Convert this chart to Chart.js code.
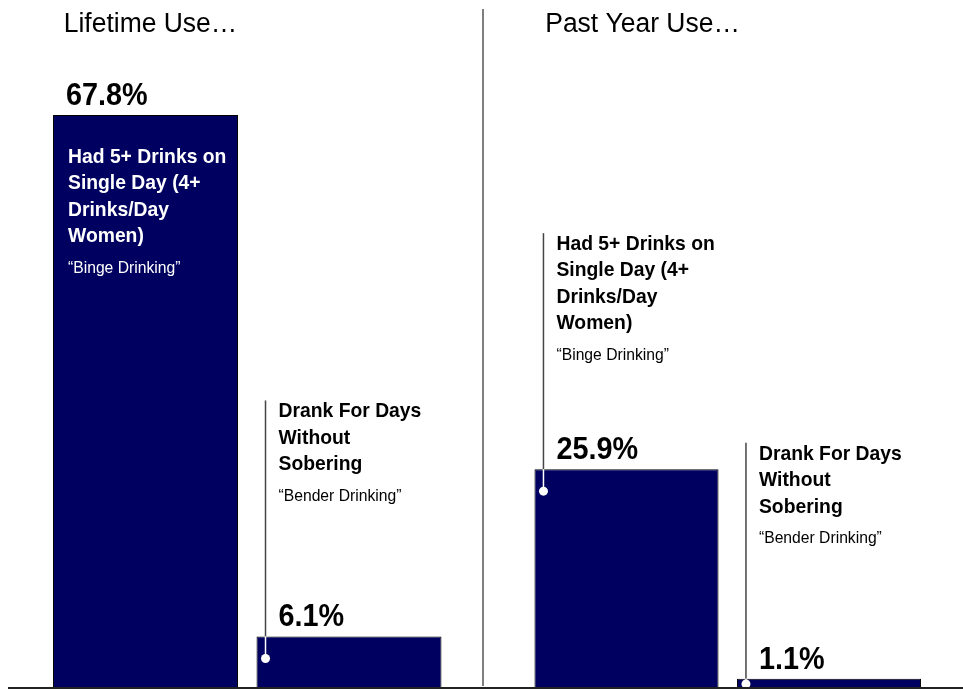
<!DOCTYPE html>
<html>
<head>
<meta charset="utf-8">
<script src="https://cdn.jsdelivr.net/npm/chart.js@4/dist/chart.umd.min.js"></script>
<style>
  html, body { margin: 0; padding: 0; background: #fff; }
  #wrap { position: relative; width: 963px; height: 689px; }
  #wrap canvas { position: absolute; left: 0; top: 0; }
</style>
</head>
<body>
<div id="wrap">
  <canvas id="lifetime" width="963" height="689"></canvas>
  <canvas id="pastyear" width="963" height="689"></canvas>
</div>
<script>
// データ
const panelTitles = ['Lifetime Use…', 'Past Year Use…'];
const categories = [
  ['Had 5+ Drinks on', 'Single Day (4+', 'Drinks/Day', 'Women)'],
  ['Drank For Days', 'Without', 'Sobering']
];
const nicknames = ['“Binge Drinking”', '“Bender Drinking”'];
const lifetimeValues = [67.8, 6.1];
const pastYearValues = [25.9, 1.1];

const FONT = '"Liberation Sans", Arial, sans-serif';
const BAR_COLOR = '#000060';

// 横方向に少し詰めて文字を描く
function drawText(ctx, text, x, y, sx) {
  ctx.save();
  ctx.translate(x, y);
  ctx.scale(sx, 1);
  ctx.fillText(text, 0, 0);
  ctx.restore();
}

// ラベル・引き出し線・数値を描くプラグイン
function annotationPlugin(title, drawFrame) {
  return {
    id: 'annotations',
    afterDatasetsDraw(chart) {
      const ctx = chart.ctx;
      const area = chart.chartArea;
      const meta = chart.getDatasetMeta(0);
      const base = chart.scales.y.getPixelForValue(0);
      ctx.save();
      ctx.textBaseline = 'middle';
      ctx.textAlign = 'left';

      // パネルの見出し
      ctx.fillStyle = '#000';
      ctx.font = '27px ' + FONT;
      drawText(ctx, title, area.left + 20, 25, 0.98);

      meta.data.forEach((bar, i) => {
        const value = chart.data.datasets[0].data[i];
        const left = bar.x - bar.width / 2;
        const top = bar.y;
        const lines = categories[i];
        const inside = base - top > 300;

        // 数値
        ctx.fillStyle = '#000';
        ctx.font = 'bold 32px ' + FONT;
        drawText(ctx, value.toFixed(1) + '%', left + (inside ? 13 : 22), top - 19, 0.9);

        let y, tx;
        if (inside) {
          // 棒の中に白文字
          ctx.fillStyle = '#fff';
          tx = left + 15;
          y = top + 42;
        } else {
          // 棒の上に黒文字と引き出し線
          tx = left + 22;
          y = top - 225;
          const lx = left + 9;
          const dotY = Math.min(top + 22, base - 4);
          ctx.strokeStyle = '#444';
          ctx.lineWidth = 1.5;
          ctx.beginPath();
          ctx.moveTo(lx, top - 236);
          ctx.lineTo(lx, top);
          ctx.stroke();
          ctx.strokeStyle = '#fff';
          ctx.beginPath();
          ctx.moveTo(lx, top);
          ctx.lineTo(lx, dotY);
          ctx.stroke();
          ctx.fillStyle = '#fff';
          ctx.beginPath();
          ctx.arc(lx, dotY, 4.5, 0, Math.PI * 2);
          ctx.fill();
          ctx.fillStyle = '#000';
        }
        ctx.font = 'bold 21px ' + FONT;
        lines.forEach((t, k) => drawText(ctx, t, tx, y + k * 26.5, 0.92));
        ctx.font = '16px ' + FONT;
        drawText(ctx, nicknames[i], tx, y + (lines.length - 1) * 26.5 + 32, 0.98);
      });

      if (drawFrame) {
        // 中央の仕切り線
        ctx.strokeStyle = '#555';
        ctx.lineWidth = 1.5;
        ctx.beginPath();
        ctx.moveTo(483, 9);
        ctx.lineTo(483, 686);
        ctx.stroke();
        // 基準線
        ctx.strokeStyle = '#222';
        ctx.lineWidth = 2;
        ctx.beginPath();
        ctx.moveTo(8, base);
        ctx.lineTo(963, base);
        ctx.stroke();
      }
      ctx.restore();
    }
  };
}

function makeChart(id, values, title, padLeft, padRight, drawFrame) {
  return new Chart(document.getElementById(id), {
    type: 'bar',
    data: {
      labels: categories.map(c => c.join(' ')),
      datasets: [{
        data: values,
        backgroundColor: BAR_COLOR,
        borderColor: '#000',
        borderWidth: 1,
        categoryPercentage: 1,
        barPercentage: 0.909
      }]
    },
    options: {
      responsive: false,
      animation: false,
      devicePixelRatio: 1,
      layout: { padding: { left: padLeft, right: padRight, top: 12, bottom: 1 } },
      plugins: { legend: { display: false }, tooltip: { enabled: false } },
      scales: {
        x: { display: false },
        y: { display: false, min: 0, max: 80 }
      }
    },
    plugins: [annotationPlugin(title, drawFrame)]
  });
}

makeChart('lifetime', lifetimeValues, panelTitles[0], 43.75, 512.25, false);
makeChart('pastyear', pastYearValues, panelTitles[1], 525.25, 32.75, true);
</script>
</body>
</html>
